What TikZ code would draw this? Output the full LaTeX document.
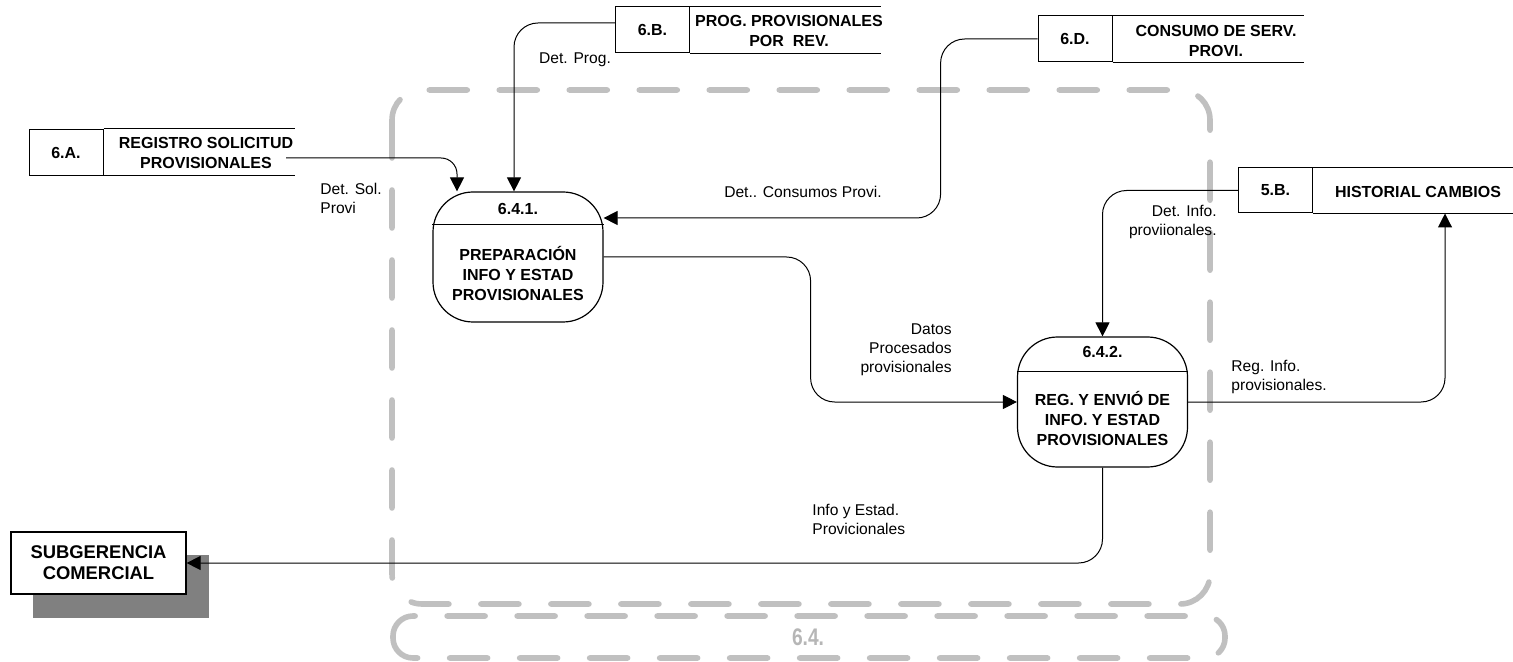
\documentclass[tikz,border=0pt]{standalone}
\usepackage{fontspec}
\setmainfont{Liberation Sans}
\usetikzlibrary{arrows.meta,calc}
\definecolor{dgray}{RGB}{192,192,192}
\definecolor{shadowgray}{RGB}{128,128,128}
\begin{document}
\begin{tikzpicture}[x=0.5pt,y=-0.5pt,
  flow/.style={draw=black, line width=0.5pt, -{Triangle[length=7pt,width=7pt]}},
  lbl/.style={font=\fontsize{7.8}{9.5}\selectfont, inner sep=0pt},
  boldtxt/.style={font=\fontsize{8}{10}\selectfont\bfseries, inner sep=0pt, align=center},
  storeid/.style={draw, line width=0.5pt, minimum width=37pt, minimum height=23pt, inner sep=0pt, font=\fontsize{8}{10}\selectfont\bfseries},
  storeline/.style={draw, line width=0.5pt},
  proc/.style={draw, line width=0.6pt, rounded corners=20pt, minimum width=85pt, minimum height=65pt, inner sep=0pt},
  bound/.style={draw=dgray, line width=2.8pt, line cap=round, dash pattern=on 19pt off 16pt}
]
\useasboundingbox (0,0) rectangle (1513,662);

% boundary of process 6.4
\draw[bound, rounded corners=15pt] (392,90) rectangle (1210,604);
\draw[bound, rounded corners=10pt] (393,616) rectangle (1225,658);
\node[font=\fontsize{12}{14}\selectfont\bfseries, text=dgray!95!black, inner sep=0pt] (bl) at (808,637) {\scalebox{0.8}[1]{6.4.}};

% data stores
\node[storeid] (sA) at (66,152.5) {6.A.};
\draw[storeline] (sA.north east) -- ++(191,0);
\draw[storeline] (sA.south east) -- ++(191,0);
\node[boldtxt] (sAn) at (206,153) {REGISTRO SOLICITUD\\PROVISIONALES};

\node[storeid] (sB) at (652.5,30) {6.B.};
\draw[storeline] (sB.north east) -- ++(191,0);
\draw[storeline] (sB.south east) -- ++(191,0);
\node[boldtxt] (sBn) at (789,31) {PROG. PROVISIONALES\\POR\ \ REV.};

\node[storeid] (sD) at (1075,39) {6.D.};
\draw[storeline] (sD.north east) -- ++(191,0);
\draw[storeline] (sD.south east) -- ++(191,0);
\node[boldtxt] (sDn) at (1216,41) {CONSUMO DE SERV.\\PROVI.};

\node[storeid, minimum height=22.5pt] (sE) at (1275.5,190.5) {5.B.};
\draw[storeline] (sE.north east) -- ++(202,0);
\draw[storeline] (sE.south east) -- ++(202,0);
\node[boldtxt] (sEn) at (1418,192) {HISTORIAL CAMBIOS};

% processes
\node[proc] (p1) at (518,257) {};
\draw[line width=0.7pt] ($(p1.north west)+(0,33)$) -- ($(p1.north east)+(0,33)$);
\node[boldtxt] (p1t) at ($(p1.north)+(0,18)$) {6.4.1.};
\node[boldtxt] (p1b) at ($(p1.center)+(0,16)$) {PREPARACIÓN\\INFO Y ESTAD\\PROVISIONALES};

\node[proc] (p2) at (1102.5,402) {};
\draw[line width=0.7pt] ($(p2.north west)+(0,35)$) -- ($(p2.north east)+(0,35)$);
\node[boldtxt] (p2t) at ($(p2.north)+(0,16)$) {6.4.2.};
\node[boldtxt] (p2b) at ($(p2.center)+(0,16)$) {REG. Y ENVIÓ DE\\INFO. Y ESTAD\\PROVISIONALES};

% external entity
\fill[shadowgray] (33,555) rectangle (209,618);
\node[draw, fill=white, line width=0.6pt, minimum width=87.5pt, minimum height=31pt, inner sep=0pt,
      align=center, font=\fontsize{9.2}{10.5}\selectfont\bfseries] (sub) at (98.5,563) {SUBGERENCIA\\COMERCIAL};

% flows
\coordinate (aOut) at (286,158);
\draw[flow, rounded corners=8pt] (aOut) -| ($(p1.north)+(-61,0)$);
\draw[flow, rounded corners=12pt] ($(sB.west)+(0,-7)$) -| ($(p1.north)+(-4,0)$);
\draw[flow, rounded corners=12pt] (sD.west) -| ($(p1.east)+(337,-39)$) -- ($(p1.east)+(0,-39)$);
\draw[flow, rounded corners=12pt] (p1.east) -- ++(207,0) |- (p2.west);
\draw[flow, rounded corners=12pt] (sE.west) -| (p2.north);
\draw[flow, rounded corners=12pt] (p2.east) -| ($(sE.south east)+(132,0)$);
\draw[flow, rounded corners=12pt] (p2.south) |- (sub.east);

% flow labels
\node[lbl] (lProg) at (575,60) {Det. Prog.};
\node[lbl, anchor=west, align=left] (lSol) at (320,198) {Det. Sol.\\Provi};
\node[lbl] (lCons) at (803,192) {Det.. Consumos Provi.};
\node[lbl, anchor=east, align=right] (lInfo) at (1217,222) {Det. Info.\\proviionales.};
\node[lbl, anchor=east, align=right] (lDatos) at (952,350) {Datos\\Procesados\\provisionales};
\node[lbl, anchor=west, align=left] (lReg) at (1231,377) {Reg. Info.\\provisionales.};
\node[lbl, anchor=west, align=left] (lInfoE) at (812,519) {Info y Estad.\\Provicionales};
\end{tikzpicture}
\end{document}
